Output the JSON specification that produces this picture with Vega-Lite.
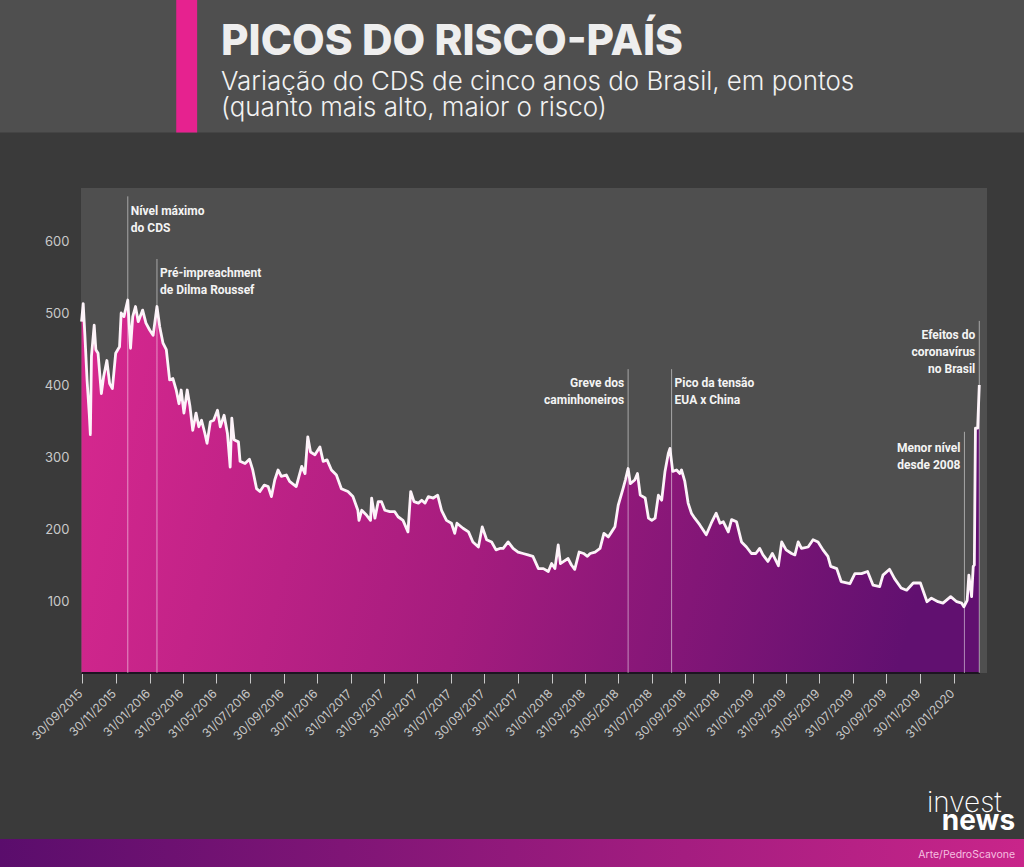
{
  "$schema": "https://vega.github.io/schema/vega-lite/v6.json",
  "width": 906,
  "height": 485,
  "autosize": {"type": "none"},
  "padding": {"left": 81, "top": 188, "right": 37, "bottom": 194},
  "background": "#3a3a3a",
  "config": {"view": {"fill": "#4f4f4f", "stroke": null}},
  "title": {
    "text": "PICOS DO RISCO-PAÍS",
    "subtitle": ["Variação do CDS de cinco anos do Brasil, em pontos", "(quanto mais alto, maior o risco)"],
    "anchor": "start",
    "frame": "group",
    "dx": 140,
    "offset": -126,
    "zindex": 1,
    "font": "Inter",
    "fontWeight": 800,
    "fontSize": 42.3,
    "color": "#eeeeee",
    "subtitleFont": "Inter",
    "subtitleFontWeight": 300,
    "subtitleFontSize": 25.9,
    "subtitleColor": "#f2f2f2",
    "subtitlePadding": 6,
    "subtitleLineHeight": 26
  },
  "datasets": {
    "cds": [
      {"date":"2015-09-29","v":488},{"date":"2015-10-02","v":513},{"date":"2015-10-05","v":470},{"date":"2015-10-09","v":407},{"date":"2015-10-13","v":360},{"date":"2015-10-15","v":331},{"date":"2015-10-17","v":440},{"date":"2015-10-22","v":483},{"date":"2015-10-25","v":449},{"date":"2015-10-29","v":444},{"date":"2015-11-04","v":388},{"date":"2015-11-08","v":411},{"date":"2015-11-14","v":434},{"date":"2015-11-19","v":402},{"date":"2015-11-24","v":395},{"date":"2015-11-30","v":444},{"date":"2015-12-07","v":453},{"date":"2015-12-10","v":500},{"date":"2015-12-15","v":495},{"date":"2015-12-22","v":518},{"date":"2015-12-27","v":451},{"date":"2015-12-31","v":495},
      {"date":"2016-01-05","v":509},{"date":"2016-01-10","v":488},{"date":"2016-01-18","v":504},{"date":"2016-01-24","v":486},{"date":"2016-01-31","v":476},{"date":"2016-02-06","v":469},{"date":"2016-02-13","v":509},{"date":"2016-02-18","v":481},{"date":"2016-02-24","v":458},{"date":"2016-03-01","v":449},{"date":"2016-03-07","v":407},{"date":"2016-03-13","v":409},{"date":"2016-03-19","v":393},{"date":"2016-03-24","v":374},{"date":"2016-03-28","v":393},{"date":"2016-04-02","v":361},{"date":"2016-04-08","v":393},{"date":"2016-04-13","v":370},{"date":"2016-04-18","v":337},{"date":"2016-04-24","v":361},{"date":"2016-04-29","v":342},{"date":"2016-05-04","v":351},{"date":"2016-05-10","v":333},{"date":"2016-05-14","v":319},{"date":"2016-05-20","v":349},{"date":"2016-05-26","v":351},{"date":"2016-06-02","v":365},{"date":"2016-06-07","v":342},{"date":"2016-06-14","v":358},{"date":"2016-06-20","v":333},{"date":"2016-06-25","v":286},{"date":"2016-06-28","v":354},{"date":"2016-07-02","v":324},{"date":"2016-07-10","v":321},{"date":"2016-07-13","v":294},{"date":"2016-07-22","v":291},{"date":"2016-07-30","v":297},{"date":"2016-08-05","v":282},{"date":"2016-08-12","v":256},{"date":"2016-08-18","v":252},{"date":"2016-08-26","v":261},{"date":"2016-09-02","v":259},{"date":"2016-09-08","v":245},{"date":"2016-09-14","v":268},{"date":"2016-09-20","v":282},{"date":"2016-09-26","v":273},{"date":"2016-10-05","v":275},{"date":"2016-10-11","v":266},{"date":"2016-10-23","v":259},{"date":"2016-11-02","v":287},{"date":"2016-11-08","v":277},{"date":"2016-11-13","v":328},{"date":"2016-11-18","v":307},{"date":"2016-11-26","v":303},{"date":"2016-12-05","v":314},{"date":"2016-12-11","v":294},{"date":"2016-12-18","v":296},{"date":"2016-12-26","v":282},
      {"date":"2017-01-04","v":275},{"date":"2017-01-13","v":256},{"date":"2017-01-25","v":252},{"date":"2017-02-03","v":245},{"date":"2017-02-12","v":226},{"date":"2017-02-14","v":212},{"date":"2017-02-19","v":226},{"date":"2017-02-28","v":219},{"date":"2017-03-07","v":212},{"date":"2017-03-09","v":243},{"date":"2017-03-15","v":215},{"date":"2017-03-21","v":238},{"date":"2017-03-27","v":238},{"date":"2017-04-02","v":226},{"date":"2017-04-11","v":224},{"date":"2017-04-20","v":224},{"date":"2017-04-26","v":217},{"date":"2017-05-05","v":212},{"date":"2017-05-14","v":196},{"date":"2017-05-19","v":252},{"date":"2017-05-25","v":238},{"date":"2017-06-02","v":236},{"date":"2017-06-08","v":240},{"date":"2017-06-14","v":236},{"date":"2017-06-20","v":245},{"date":"2017-06-29","v":243},{"date":"2017-07-07","v":247},{"date":"2017-07-14","v":226},{"date":"2017-07-23","v":212},{"date":"2017-08-01","v":208},{"date":"2017-08-07","v":194},{"date":"2017-08-11","v":208},{"date":"2017-08-22","v":201},{"date":"2017-09-01","v":196},{"date":"2017-09-09","v":182},{"date":"2017-09-19","v":175},{"date":"2017-09-26","v":203},{"date":"2017-10-04","v":185},{"date":"2017-10-13","v":182},{"date":"2017-10-21","v":171},{"date":"2017-10-28","v":173},{"date":"2017-11-03","v":173},{"date":"2017-11-12","v":182},{"date":"2017-11-21","v":173},{"date":"2017-11-30","v":168},{"date":"2017-12-09","v":166},{"date":"2017-12-18","v":164},{"date":"2017-12-27","v":162},
      {"date":"2018-01-06","v":145},{"date":"2018-01-15","v":145},{"date":"2018-01-24","v":141},{"date":"2018-01-30","v":152},{"date":"2018-02-05","v":145},{"date":"2018-02-11","v":178},{"date":"2018-02-15","v":152},{"date":"2018-02-21","v":155},{"date":"2018-03-01","v":159},{"date":"2018-03-07","v":150},{"date":"2018-03-13","v":144},{"date":"2018-03-21","v":168},{"date":"2018-03-29","v":166},{"date":"2018-04-05","v":162},{"date":"2018-04-10","v":166},{"date":"2018-04-19","v":168},{"date":"2018-04-28","v":173},{"date":"2018-05-05","v":194},{"date":"2018-05-13","v":189},{"date":"2018-05-19","v":196},{"date":"2018-05-25","v":203},{"date":"2018-05-31","v":233},{"date":"2018-06-08","v":254},{"date":"2018-06-13","v":268},{"date":"2018-06-18","v":284},{"date":"2018-06-22","v":263},{"date":"2018-06-30","v":268},{"date":"2018-07-05","v":277},{"date":"2018-07-10","v":247},{"date":"2018-07-19","v":243},{"date":"2018-07-25","v":215},{"date":"2018-07-31","v":212},{"date":"2018-08-06","v":215},{"date":"2018-08-12","v":247},{"date":"2018-08-18","v":240},{"date":"2018-08-24","v":280},{"date":"2018-08-30","v":305},{"date":"2018-09-02","v":312},{"date":"2018-09-07","v":280},{"date":"2018-09-14","v":282},{"date":"2018-09-20","v":277},{"date":"2018-09-23","v":282},{"date":"2018-09-29","v":266},{"date":"2018-10-05","v":236},{"date":"2018-10-11","v":222},{"date":"2018-10-17","v":215},{"date":"2018-10-26","v":206},{"date":"2018-11-07","v":192},{"date":"2018-11-16","v":208},{"date":"2018-11-25","v":222},{"date":"2018-12-02","v":208},{"date":"2018-12-08","v":210},{"date":"2018-12-17","v":196},{"date":"2018-12-23","v":213},
      {"date":"2019-01-01","v":210},{"date":"2019-01-10","v":182},{"date":"2019-01-19","v":175},{"date":"2019-01-28","v":166},{"date":"2019-02-05","v":166},{"date":"2019-02-12","v":173},{"date":"2019-02-18","v":164},{"date":"2019-02-27","v":155},{"date":"2019-03-07","v":166},{"date":"2019-03-18","v":149},{"date":"2019-03-24","v":182},{"date":"2019-04-01","v":171},{"date":"2019-04-11","v":166},{"date":"2019-04-17","v":164},{"date":"2019-04-23","v":182},{"date":"2019-04-29","v":173},{"date":"2019-05-11","v":175},{"date":"2019-05-20","v":185},{"date":"2019-05-29","v":182},{"date":"2019-06-07","v":171},{"date":"2019-06-16","v":162},{"date":"2019-06-21","v":148},{"date":"2019-07-02","v":145},{"date":"2019-07-10","v":127},{"date":"2019-07-26","v":124},{"date":"2019-08-04","v":138},{"date":"2019-08-16","v":138},{"date":"2019-08-27","v":141},{"date":"2019-09-06","v":122},{"date":"2019-09-18","v":120},{"date":"2019-09-24","v":136},{"date":"2019-10-06","v":144},{"date":"2019-10-15","v":131},{"date":"2019-10-27","v":118},{"date":"2019-11-06","v":115},{"date":"2019-11-18","v":125},{"date":"2019-12-01","v":125},{"date":"2019-12-13","v":99},{"date":"2019-12-21","v":104},
      {"date":"2020-01-02","v":99},{"date":"2020-01-11","v":97},{"date":"2020-01-25","v":106},{"date":"2020-02-05","v":99},{"date":"2020-02-14","v":97},{"date":"2020-02-18","v":92},{"date":"2020-02-24","v":101},{"date":"2020-02-27","v":136},{"date":"2020-03-03","v":106},{"date":"2020-03-06","v":148},{"date":"2020-03-08","v":150},{"date":"2020-03-10","v":340},{"date":"2020-03-14","v":340},{"date":"2020-03-17","v":400}
    ],
    "events": [
      {"date":"2015-12-22","top":662},
      {"date":"2016-02-13","top":575},
      {"date":"2018-06-18","top":422},
      {"date":"2018-09-05","top":422},
      {"date":"2020-02-19","top":335},
      {"date":"2020-03-17","top":489}
    ],
    "notesRight": [
      {"date":"2015-12-22","v":641.7,"label":"Nível máximo"},
      {"date":"2015-12-22","v":618,"label":"do CDS"},
      {"date":"2016-02-13","v":555.6,"label":"Pré-impreachment"},
      {"date":"2016-02-13","v":532,"label":"de Dilma Roussef"},
      {"date":"2018-09-05","v":403,"label":"Pico da tensão"},
      {"date":"2018-09-05","v":379,"label":"EUA x China"}
    ],
    "notesLeft": [
      {"date":"2018-06-18","v":403,"label":"Greve dos"},
      {"date":"2018-06-18","v":379,"label":"caminhoneiros"},
      {"date":"2020-02-19","v":312.5,"label":"Menor nível"},
      {"date":"2020-02-19","v":289,"label":"desde 2008"},
      {"date":"2020-03-17","v":469.4,"label":"Efeitos do"},
      {"date":"2020-03-17","v":445.8,"label":"coronavírus"},
      {"date":"2020-03-17","v":422,"label":"no Brasil"}
    ]
  },
  "encoding": {
    "x": {
      "field": "date",
      "type": "temporal",
      "title": null,
      "scale": {"type": "utc", "domain": ["2015-09-28", "2020-03-31"]},
      "axis": {
        "values": ["2015-09-30","2015-11-30","2016-01-31","2016-03-31","2016-05-31","2016-07-31","2016-09-30","2016-11-30","2017-01-31","2017-03-31","2017-05-31","2017-07-31","2017-09-30","2017-11-30","2018-01-31","2018-03-31","2018-05-31","2018-07-31","2018-09-30","2018-11-30","2019-01-31","2019-03-31","2019-05-31","2019-07-31","2019-09-30","2019-11-30","2020-01-31"],
        "format": "%d/%m/%Y",
        "labelAngle": -45,
        "labelAlign": "right",
        "labelBaseline": "middle",
        "labelFont": "Inter",
        "labelFontSize": 12,
        "labelColor": "#c9c9c9",
        "labelPadding": 8,
        "labelOffset": -2,
        "labelOverlap": false,
        "labelFlush": false,
        "domain": false,
        "grid": false,
        "tickColor": "#c9c9c9",
        "tickSize": 10
      }
    },
    "y": {
      "field": "v",
      "type": "quantitative",
      "title": null,
      "scale": {"domain": [0, 673.6], "nice": false},
      "axis": {
        "values": [100, 200, 300, 400, 500, 600],
        "labelFont": "Inter",
        "labelFontSize": 13,
        "labelColor": "#c9c9c9",
        "labelPadding": 12,
        "labelOffset": 1,
        "domain": false,
        "ticks": false,
        "grid": false
      }
    }
  },
  "layer": [
    {
      "data": {"values": [{"start":"2015-05-01","end":"2020-06-12","lo":750.7,"hi":940}]},
      "mark": {"type": "rect", "fill": "#4f4f4f"},
      "encoding": {
        "x": {"field": "start", "type": "temporal"},
        "x2": {"field": "end"},
        "y": {"field": "lo", "type": "quantitative"},
        "y2": {"field": "hi"}
      }
    },
    {
      "data": {"values": [{"start":"2016-03-19","end":"2016-04-26","lo":750.7,"hi":940}]},
      "mark": {"type": "rect", "fill": "#e6228f"},
      "encoding": {
        "x": {"field": "start", "type": "temporal"},
        "x2": {"field": "end"},
        "y": {"field": "lo", "type": "quantitative"},
        "y2": {"field": "hi"}
      }
    },
    {
      "data": {"values": [{"start":"2015-05-01","end":"2020-06-12","lo":-280,"hi":-230.6}]},
      "mark": {
        "type": "rect",
        "fill": {"gradient": "linear", "x1": 0, "y1": 0, "x2": 1, "y2": 0, "stops": [{"offset": 0, "color": "#5a0d6c"}, {"offset": 1, "color": "#c9258a"}]}
      },
      "encoding": {
        "x": {"field": "start", "type": "temporal"},
        "x2": {"field": "end"},
        "y": {"field": "lo", "type": "quantitative"},
        "y2": {"field": "hi"}
      }
    },
    {
      "data": {"name": "cds"},
      "mark": {
        "type": "area",
        "fill": {"gradient": "linear", "x1": 0, "y1": 0, "x2": 1, "y2": 0.1, "stops": [{"offset": 0, "color": "#d8288f"}, {"offset": 0.5, "color": "#a51c7e"}, {"offset": 1, "color": "#611070"}]}
      }
    },
    {
      "data": {"name": "cds"},
      "mark": {"type": "line", "stroke": "#fdf3f9", "strokeWidth": 2.8, "strokeJoin": "round"}
    },
    {
      "data": {"values": [{"start":"2015-09-29","end":"2020-03-18","v":0}]},
      "mark": {"type": "rule", "stroke": "#1c1420", "strokeWidth": 2},
      "encoding": {
        "x": {"field": "start", "type": "temporal"},
        "x2": {"field": "end"}
      }
    },
    {
      "data": {"name": "events"},
      "mark": {"type": "rule", "stroke": "#ffffff", "strokeOpacity": 0.5, "strokeWidth": 1},
      "encoding": {
        "y": {"field": "top", "type": "quantitative"},
        "y2": {"datum": 0}
      }
    },
    {
      "data": {"name": "notesRight"},
      "mark": {"type": "text", "align": "left", "baseline": "middle", "dx": 3, "font": "Roboto", "fontWeight": "bold", "fontSize": 12, "fill": "#f4f4f4"},
      "encoding": {"text": {"field": "label"}}
    },
    {
      "data": {"name": "notesLeft"},
      "mark": {"type": "text", "align": "right", "baseline": "middle", "dx": -4, "font": "Roboto", "fontWeight": "bold", "fontSize": 12, "fill": "#f4f4f4"},
      "encoding": {"text": {"field": "label"}}
    },
    {
      "data": {"values": [{"date":"2020-05-21","v":-252.8,"label":"Arte/PedroScavone"}]},
      "mark": {"type": "text", "align": "right", "baseline": "middle", "font": "Inter", "fontSize": 10.5, "fill": "#f6bfe0"},
      "encoding": {"text": {"field": "label"}}
    },
    {
      "data": {"values": [{"date":"2020-04-27","v":-193,"label":"invest"}]},
      "mark": {"type": "text", "align": "right", "baseline": "alphabetic", "font": "Inter", "fontWeight": 200, "fontSize": 28, "fill": "#ffffff"},
      "encoding": {"text": {"field": "label"}}
    },
    {
      "data": {"values": [{"date":"2020-05-21","v":-218,"label":"news"}]},
      "mark": {"type": "text", "align": "right", "baseline": "alphabetic", "font": "Inter", "fontWeight": 700, "fontSize": 28, "fill": "#ffffff"},
      "encoding": {"text": {"field": "label"}}
    }
  ]
}
